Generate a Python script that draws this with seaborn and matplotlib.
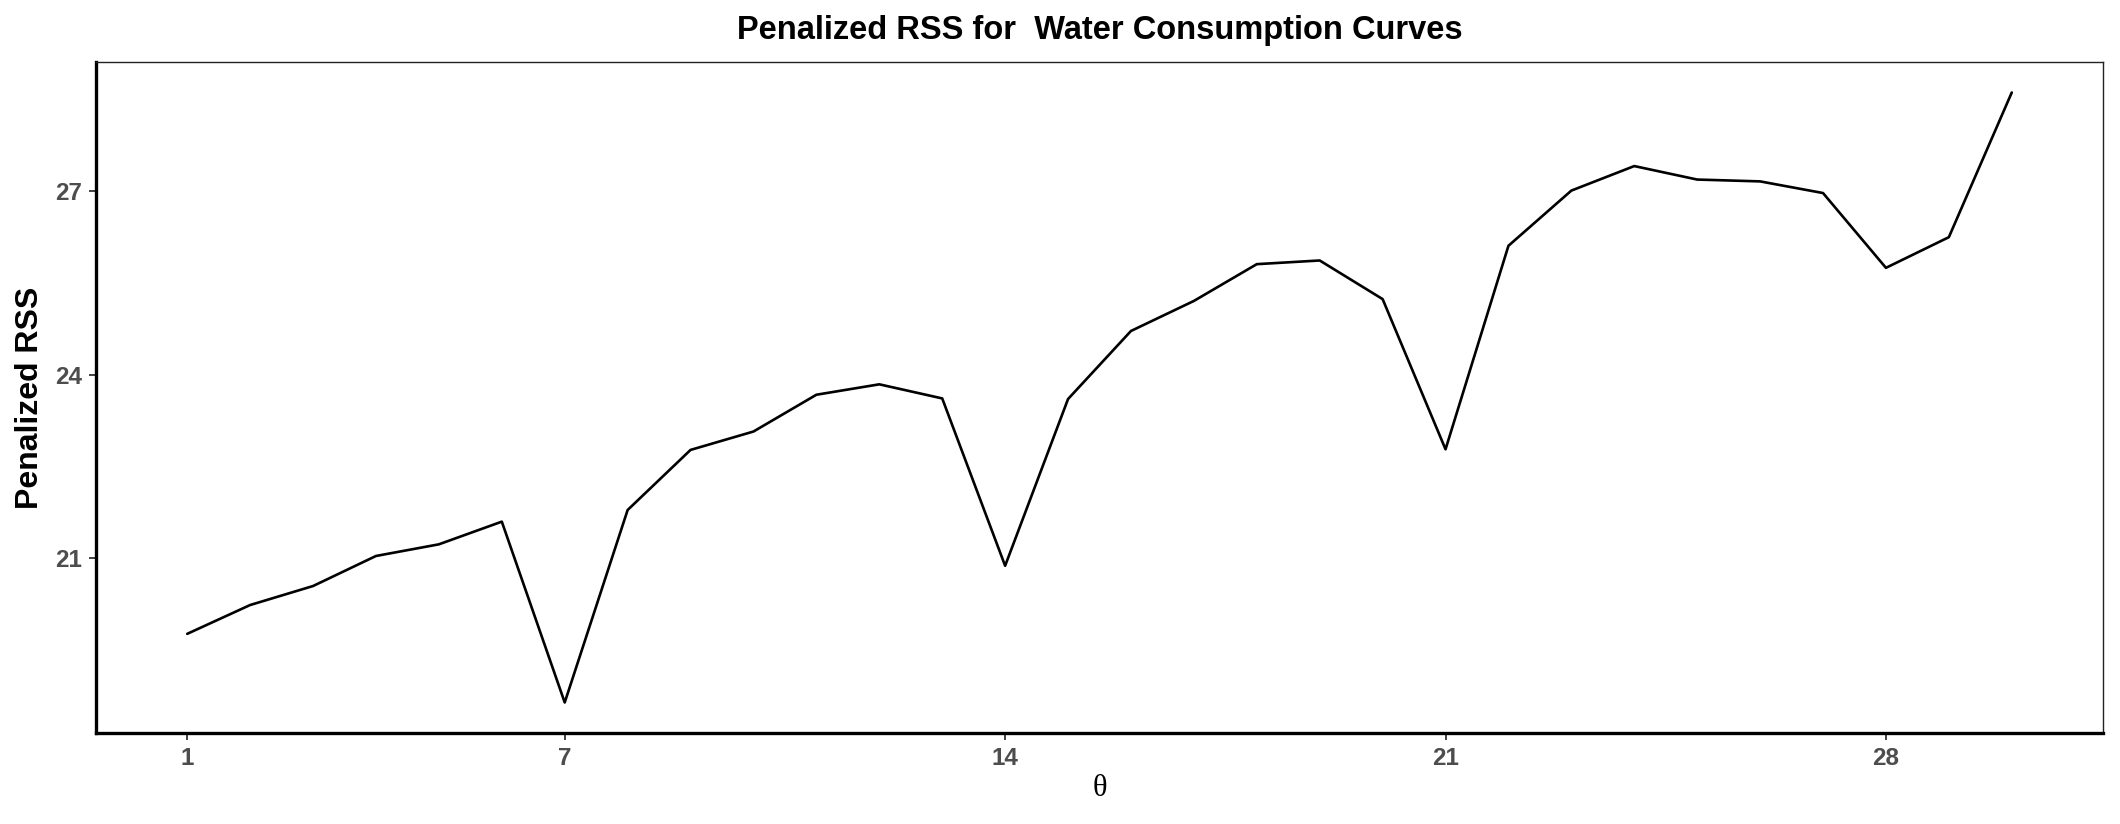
import matplotlib
matplotlib.use("Agg")
import matplotlib.pyplot as plt
import seaborn as sns
import pandas as pd

theta = list(range(1, 31))
penalized_rss = [19.77, 20.24, 20.55, 21.04, 21.23, 21.60, 18.65, 21.79, 22.77, 23.07,
                 23.67, 23.84, 23.61, 20.88, 23.60, 24.71, 25.20, 25.80, 25.86, 25.23,
                 22.78, 26.10, 27.00, 27.40, 27.18, 27.15, 26.96, 25.74, 26.24, 28.60]
x_ticks = [1, 7, 14, 21, 28]
y_ticks = [21, 24, 27]

title = "Penalized RSS for  Water Consumption Curves"
ylabel = "Penalized RSS"
xlabel = "θ"

df = pd.DataFrame({"theta": theta, "rss": penalized_rss})

sns.set_theme(style="white")
plt.rcParams['font.family'] = ['Liberation Sans', 'DejaVu Sans']

W, H = 2120, 824
fig = plt.figure(figsize=(W / 100, H / 100), dpi=100)
L, R, T, B = 96, 2103, 62, 733
ax = fig.add_axes([L / W, 1 - B / H, (R - L) / W, (B - T) / H])

sns.lineplot(data=df, x="theta", y="rss", ax=ax, color="black", linewidth=1.9)

xr = max(theta) - min(theta)
ax.set_xlim(min(theta) - 0.05 * xr, max(theta) + 0.05 * xr)
yr = max(penalized_rss) - min(penalized_rss)
ax.set_ylim(min(penalized_rss) - 0.05 * yr, max(penalized_rss) + 0.05 * yr)

ax.set_xticks(x_ticks)
ax.set_yticks(y_ticks)
ax.set_xticklabels([str(v) for v in x_ticks])
ax.set_yticklabels([str(v) for v in y_ticks])
ax.tick_params(axis="both", which="major", length=5, width=1.3, color="#333333",
               labelcolor="#4D4D4D", labelsize=17.5, pad=5, bottom=True, left=True)
for lab in ax.get_xticklabels() + ax.get_yticklabels():
    lab.set_fontweight("bold")

for side in ["top", "right"]:
    ax.spines[side].set_visible(True)
    ax.spines[side].set_linewidth(1.0)
    ax.spines[side].set_color("#222222")
for side in ["left", "bottom"]:
    ax.spines[side].set_visible(True)
    ax.spines[side].set_linewidth(2.4)
    ax.spines[side].set_color("black")

ax.set_xlabel("")
ax.set_ylabel("")
ax.grid(False)

cx = (L + R) / 2 / W
fig.text(cx, 1 - 30 / H, title, ha="center", va="center", fontsize=23.5,
         fontweight="bold", color="black")
fig.text(30 / W, 1 - (T + B) / 2 / H, ylabel, ha="center", va="center", rotation=90,
         fontsize=23, fontweight="bold", color="black")
fig.text(cx, 1 - 788 / H, xlabel, ha="center", va="center", fontsize=22,
         family=["Liberation Serif", "DejaVu Serif"], color="black")

fig.savefig("out.png", dpi=100, facecolor="white")
